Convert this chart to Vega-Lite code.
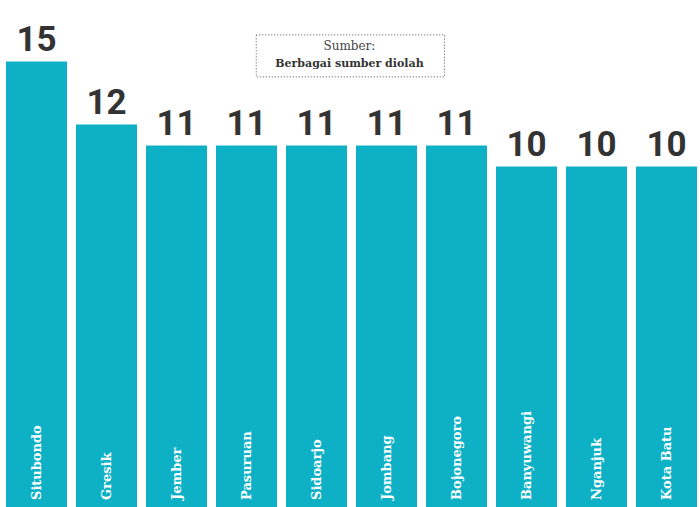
{
  "$schema": "https://vega.github.io/schema/vega-lite/v6.json",
  "width": 700,
  "height": 507,
  "autosize": {"type": "fit", "contains": "padding"},
  "padding": 0,
  "background": "white",
  "config": {"view": {"stroke": null}},
  "data": {
    "values": [
      {"kab": "Situbondo", "jumlah": 15},
      {"kab": "Gresik", "jumlah": 12},
      {"kab": "Jember", "jumlah": 11},
      {"kab": "Pasuruan", "jumlah": 11},
      {"kab": "Sidoarjo", "jumlah": 11},
      {"kab": "Jombang", "jumlah": 11},
      {"kab": "Bojonegoro", "jumlah": 11},
      {"kab": "Banyuwangi", "jumlah": 10},
      {"kab": "Nganjuk", "jumlah": 10},
      {"kab": "Kota Batu", "jumlah": 10}
    ]
  },
  "encoding": {
    "x": {"field": "kab", "type": "nominal", "sort": null, "axis": null,
          "scale": {"paddingInner": 0.1286, "paddingOuter": 0.0643, "align": 0.667}}
  },
  "layer": [
    {
      "mark": {"type": "bar", "color": "#0db0c4"},
      "encoding": {
        "y": {"field": "jumlah", "type": "quantitative", "axis": null,
              "scale": {"domain": [-6.21, 17.93], "nice": false, "zero": false}},
        "y2": {"datum": -6.21}
      }
    },
    {
      "mark": {"type": "text", "baseline": "alphabetic", "dy": -11, "fontSize": 35,
               "font": "Arial Narrow, Roboto, sans-serif",
               "fontWeight": "bold", "color": "#333333"},
      "encoding": {
        "y": {"field": "jumlah", "type": "quantitative"},
        "text": {"field": "jumlah", "type": "quantitative"}
      }
    },
    {
      "mark": {"type": "text", "angle": 270, "align": "left", "baseline": "middle", "dx": 7,
               "font": "DejaVu Serif", "fontWeight": "bold", "fontSize": 13, "color": "white"},
      "encoding": {
        "y": {"datum": -6.21, "type": "quantitative"},
        "text": {"field": "kab", "type": "nominal"}
      }
    },
    {
      "data": {"values": [{"judul": "Sumber:", "sumber": "Berbagai sumber diolah"}]},
      "layer": [
        {
          "mark": {"type": "rect", "fill": "white", "stroke": "#555555", "strokeWidth": 1, "strokeDash": [1, 2], "x2Offset": -12},
          "encoding": {
            "x": {"datum": "Pasuruan", "type": "nominal", "bandPosition": 0.66},
            "x2": {"datum": "Bojonegoro"},
            "y": {"datum": 16.27, "type": "quantitative"},
            "y2": {"datum": 14.27}
          }
        },
        {
          "mark": {"type": "text", "baseline": "middle", "align": "center", "font": "DejaVu Serif", "fontSize": 12, "color": "#444444"},
          "encoding": {
            "x": {"datum": "Sidoarjo", "type": "nominal", "bandPosition": 1.04},
            "y": {"datum": 15.74, "type": "quantitative"},
            "text": {"field": "judul", "type": "nominal"}
          }
        },
        {
          "mark": {"type": "text", "baseline": "middle", "align": "center", "font": "DejaVu Serif", "fontWeight": "bold", "fontSize": 11, "color": "#333333"},
          "encoding": {
            "x": {"datum": "Sidoarjo", "type": "nominal", "bandPosition": 1.04},
            "y": {"datum": 14.89, "type": "quantitative"},
            "text": {"field": "sumber", "type": "nominal"}
          }
        }
      ]
    }
  ]
}
